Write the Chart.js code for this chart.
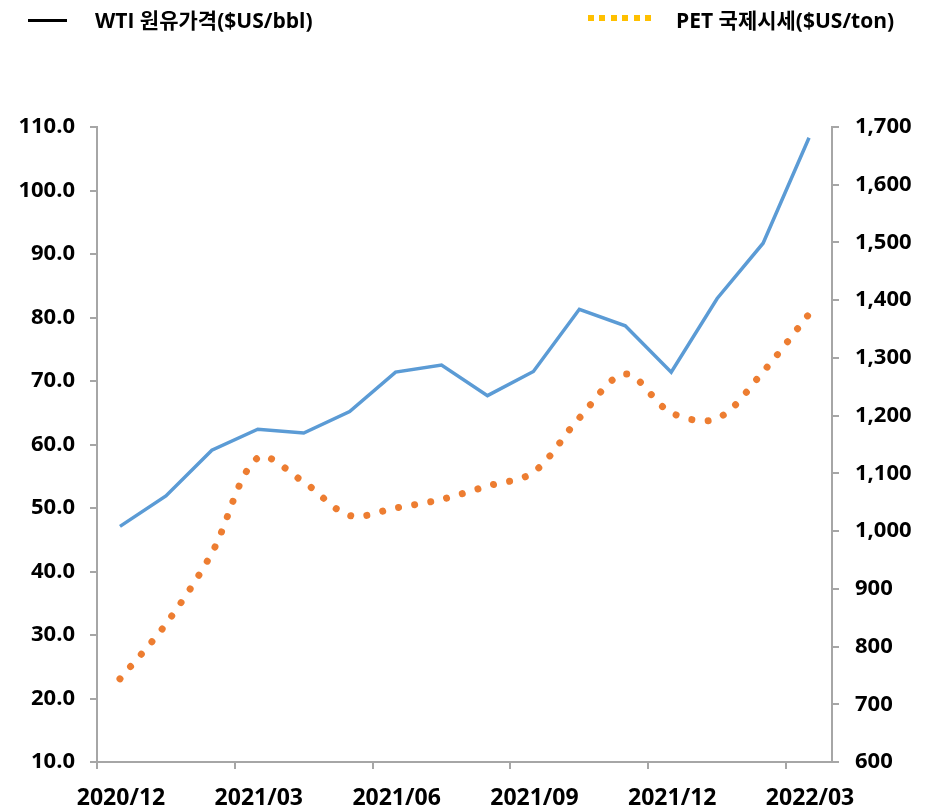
<!DOCTYPE html>
<html>
<head>
<meta charset="utf-8">
<script src="https://cdn.jsdelivr.net/npm/chart.js@4"></script>
<style>
  body { margin: 0; background: #fff; }
  #wrap { position: relative; width: 932px; height: 809px; }
  #chart { position: absolute; left: 0; top: 0; }
  .leg { position: absolute; top: 4px; height: 30px; line-height: 30px; font: bold 21px 'Open Sans', 'Noto Sans CJK KR', sans-serif; color: #000; white-space: nowrap; }
  .mark { position: absolute; }
</style>
</head>
<body>
<div id="wrap">
  <canvas id="chart" width="932" height="809"></canvas>
  <div class="mark" style="left:28px; top:19px; width:39px; height:3px; background:#000;"></div>
  <div class="leg" style="left:95px;">WTI 원유가격($US/bbl)</div>
  <div class="mark" style="left:588px; top:15px; width:64px; height:6px; background:repeating-linear-gradient(to right, #FFC000 0 6px, transparent 6px 11.4px);"></div>
  <div class="leg" style="left:676px;">PET 국제시세($US/ton)</div>
</div>
<script>
const months = ['2020/12', '2021/01', '2021/02', '2021/03', '2021/04', '2021/05', '2021/06', '2021/07',
  '2021/08', '2021/09', '2021/10', '2021/11', '2021/12', '2022/01', '2022/02', '2022/03'];
const wti = [47.1, 51.9, 59.1, 62.4, 61.8, 65.2, 71.4, 72.5, 67.7, 71.5, 81.3, 78.7, 71.4, 83.0, 91.7, 108.3];
const pet = [744, 839, 962, 1127, 1085, 1027, 1040, 1055, 1078, 1102, 1196, 1272, 1205, 1195, 1276, 1376];

const axisGrey = '#A6A6A6';
const fontFamily = "'Open Sans', 'Noto Sans CJK KR', sans-serif";
const yFont = { family: fontFamily, size: 22, weight: 'bold' };
const xFont = { family: fontFamily, size: 23, weight: 'bold' };

// points sit in the middle of each month slot
function toPoints(values) {
  return values.map(function (v, i) { return { x: i + 0.5, y: v }; });
}

const ctx = document.getElementById('chart').getContext('2d');
new Chart(ctx, {
  type: 'line',
  data: {
    datasets: [
      {
        label: 'WTI 원유가격($US/bbl)',
        data: toPoints(wti),
        yAxisID: 'y',
        borderColor: '#5B9BD5',
        borderWidth: 3.5,
        pointRadius: 0,
        tension: 0,
      },
      {
        label: 'PET 국제시세($US/ton)',
        data: toPoints(pet),
        yAxisID: 'y1',
        borderColor: '#ED7D31',
        borderWidth: 7,
        borderDash: [0.01, 16.3],
        borderCapStyle: 'round',
        pointRadius: 0,
        tension: 0.33,
      },
    ],
  },
  options: {
    responsive: false,
    animation: false,
    layout: { padding: { top: 127, left: 0, right: 0, bottom: 0 } },
    plugins: { legend: { display: false }, tooltip: { enabled: false } },
    scales: {
      x: {
        type: 'linear',
        min: 0,
        max: 16,
        afterFit: function (s) { s.height = 47; },
        border: { color: axisGrey, width: 2 },
        grid: { drawOnChartArea: false, tickLength: 7, color: axisGrey, lineWidth: 2 },
        ticks: {
          stepSize: 3,
          includeBounds: false,
          autoSkip: false,
          maxRotation: 0,
          padding: 16,
          labelOffset: 24,
          color: '#000',
          font: xFont,
          callback: function (v) { return months[v]; },
        },
      },
      y: {
        position: 'left',
        min: 10,
        max: 110,
        afterFit: function (s) { s.width = 97; },
        border: { color: axisGrey, width: 2 },
        grid: { drawOnChartArea: false, tickLength: 7, color: axisGrey, lineWidth: 2 },
        ticks: {
          stepSize: 10,
          padding: 15,
          color: '#000',
          font: yFont,
          callback: function (v) { return v.toFixed(1); },
        },
      },
      y1: {
        position: 'right',
        min: 600,
        max: 1700,
        afterFit: function (s) { s.width = 100; },
        border: { color: axisGrey, width: 2 },
        grid: { drawOnChartArea: false, tickLength: 7, color: axisGrey, lineWidth: 2 },
        ticks: {
          stepSize: 100,
          padding: 16,
          color: '#000',
          font: yFont,
          callback: function (v) { return v.toLocaleString('en-US'); },
        },
      },
    },
  },
});
</script>
</body>
</html>
